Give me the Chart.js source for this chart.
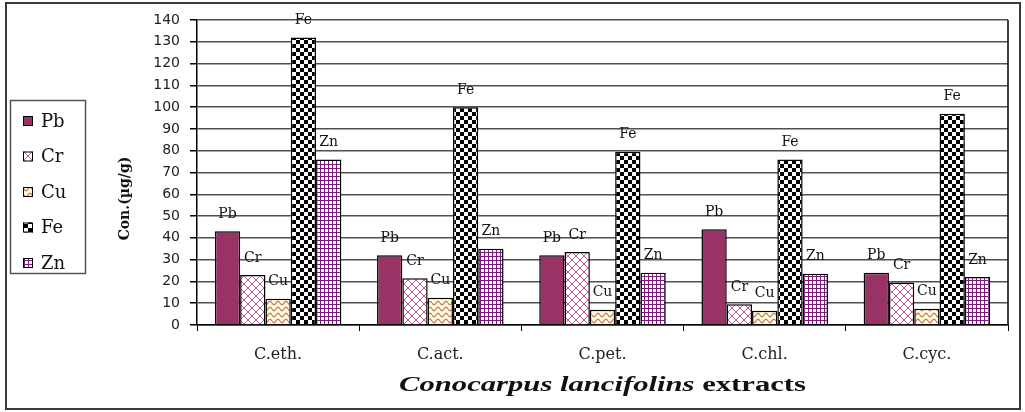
<!DOCTYPE html>
<html><head><meta charset="utf-8">
<script src="https://cdn.jsdelivr.net/npm/chart.js@4.4.0/dist/chart.umd.min.js"></script>
<style>html,body{margin:0;padding:0;background:#fff;} #wrap{width:1025px;height:412px;position:relative;}</style>
</head><body><div id="wrap"><canvas id="c" width="1025" height="412"></canvas></div>
<script>
// ---- data ----
const categories = ['C.eth.', 'C.act.', 'C.pet.', 'C.chl.', 'C.cyc.'];
const seriesNames = ['Pb', 'Cr', 'Cu', 'Fe', 'Zn'];
const pbValues = [43, 32, 32, 44, 24];
const crValues = [23, 21.5, 33.5, 9.5, 19.5];
const cuValues = [12, 12.5, 7, 6.5, 7.5];
const feValues = [132, 100, 79.5, 76, 97];
const znValues = [76, 35, 24, 23.5, 22];
const yMin = 0, yMax = 140, yStep = 10;
const yTitle = 'Con.(µg/g)';
const xTitleItalic = 'Conocarpus lancifolins';
const xTitleRest = 'extracts';

// ---- patterns ----
function tile(w, h, draw) {
  const c = document.createElement('canvas'); c.width = w; c.height = h;
  const x = c.getContext('2d'); draw(x, w, h);
  return document.getElementById('c').getContext('2d').createPattern(c, 'repeat');
}
const fills = [
  '#993366',
  tile(8, 8, (x) => { x.fillStyle = '#fff'; x.fillRect(0, 0, 8, 8); x.strokeStyle = '#C85890'; x.lineWidth = 1;
    x.beginPath(); x.moveTo(0, 0); x.lineTo(8, 8); x.moveTo(8, 0); x.lineTo(0, 8); x.stroke(); }),
  tile(8, 6, (x) => { x.fillStyle = '#FFFFCC'; x.fillRect(0, 0, 8, 6); x.strokeStyle = '#C8608E'; x.lineWidth = 1.1;
    x.beginPath(); for (let t = 0; t <= 8; t += 0.5) { const y = 3 + 1.8 * Math.sin(2 * Math.PI * t / 8); if (t === 0) x.moveTo(t, y); else x.lineTo(t, y); } x.stroke(); }),
  tile(8, 8, (x) => { x.fillStyle = '#fff'; x.fillRect(0, 0, 8, 8); x.fillStyle = '#000'; x.fillRect(0, 0, 4, 4); x.fillRect(4, 4, 4, 4); }),
  tile(4, 4, (x) => { x.fillStyle = '#fff'; x.fillRect(0, 0, 4, 4); x.fillStyle = '#7A1A7A'; x.fillRect(0, 0, 4, 1); x.fillRect(0, 0, 1, 4); })
];
const allValues = [pbValues, crValues, cuValues, feValues, znValues];

const decor = {
  id: 'decor',
  afterDatasetsDraw(chart) {
    const ctx = chart.ctx;
    ctx.save();
    ctx.font = '14px "DejaVu Serif"'; ctx.fillStyle = '#111'; ctx.textAlign = 'center'; ctx.textBaseline = 'middle';
    chart.data.datasets.forEach((ds, i) => {
      chart.getDatasetMeta(i).data.forEach(bar => { ctx.fillText(ds.label, bar.x, bar.y - 17); });
    });
    ctx.restore();
  },
  afterDraw(chart) {
    const ctx = chart.ctx, a = chart.chartArea;
    ctx.save();
    // right frame of plot
    ctx.strokeStyle = '#000'; ctx.lineWidth = 1.5;
    ctx.beginPath(); ctx.moveTo(a.right, a.top); ctx.lineTo(a.right, a.bottom); ctx.stroke();
    // outer frame
    ctx.strokeStyle = '#3a3a3a'; ctx.lineWidth = 2;
    ctx.strokeRect(6, 3, 1014, 406);
    // legend
    ctx.strokeStyle = '#555'; ctx.lineWidth = 1.5;
    ctx.strokeRect(10.5, 100.5, 75, 173);
    ctx.textAlign = 'left'; ctx.textBaseline = 'middle';
    ctx.font = '18px "DejaVu Serif"'; ctx.fillStyle = '#111';
    chart.data.datasets.forEach((ds, i) => {
      const cy = 121 + i * 35.5;
      ctx.fillStyle = ds.backgroundColor;
      ctx.fillRect(23, cy - 5, 10, 10);
      ctx.strokeStyle = '#000'; ctx.lineWidth = 1;
      ctx.strokeRect(23.5, cy - 4.5, 9, 9);
      ctx.fillStyle = '#111';
      ctx.fillText(ds.label, 41, cy + 1);
    });
    // y title
    ctx.save();
    ctx.translate(125, (a.top + a.bottom) / 2 + 26);
    ctx.rotate(-Math.PI / 2);
    ctx.font = 'bold 14px "DejaVu Serif"'; ctx.textAlign = 'center'; ctx.textBaseline = 'middle';
    ctx.fillText(yTitle, 0, 0);
    ctx.restore();
    // x title (mixed style)
    const f1 = 'italic bold 20px "Liberation Serif"', f2 = 'bold 20px "Liberation Serif"';
    ctx.font = f1; const w1 = ctx.measureText(xTitleItalic).width;
    ctx.font = f2; const gap = ctx.measureText(' ').width; const w2 = ctx.measureText(xTitleRest).width;
    const total = w1 + gap + w2;
    const sx = 407 / total;
    ctx.save();
    ctx.translate((a.left + a.right) / 2, 386);
    ctx.scale(sx, 1);
    ctx.textAlign = 'left'; ctx.textBaseline = 'middle'; ctx.fillStyle = '#111';
    ctx.font = f1; ctx.fillText(xTitleItalic, -total / 2, 0);
    ctx.font = f2; ctx.fillText(xTitleRest, -total / 2 + w1 + gap, 0);
    ctx.restore();
    ctx.restore();
  }
};

new Chart(document.getElementById('c'), {
  type: 'bar',
  data: {
    labels: categories,
    datasets: seriesNames.map((n, i) => ({
      label: n, data: allValues[i], backgroundColor: fills[i],
      borderColor: '#000', borderWidth: 1.5, categoryPercentage: 0.78, barPercentage: 1.0
    }))
  },
  options: {
    responsive: false, animation: false,
    layout: { padding: { left: 0, right: 17, top: 20, bottom: 0 } },
    plugins: { legend: { display: false }, tooltip: { enabled: false } },
    scales: {
      x: {
        grid: { display: true, drawOnChartArea: false, drawTicks: true, tickLength: 6, color: '#000', lineWidth: 1 },
        border: { display: true, color: '#000', width: 1.5 },
        ticks: { padding: 14, color: '#222', font: { family: 'DejaVu Serif', size: 16 }, maxRotation: 0 },
        afterFit(s) { s.height = 87; }
      },
      y: {
        min: yMin, max: yMax,
        grid: { color: '#505050', lineWidth: 1.5, tickLength: 7, tickColor: '#000', drawTicks: true },
        border: { display: true, color: '#000', width: 1.5 },
        ticks: { stepSize: yStep, padding: 10, color: '#222', font: { family: 'DejaVu Sans', size: 14 } },
        afterFit(s) { s.width = 197; }
      }
    }
  },
  plugins: [decor]
});
</script>
</body></html>
